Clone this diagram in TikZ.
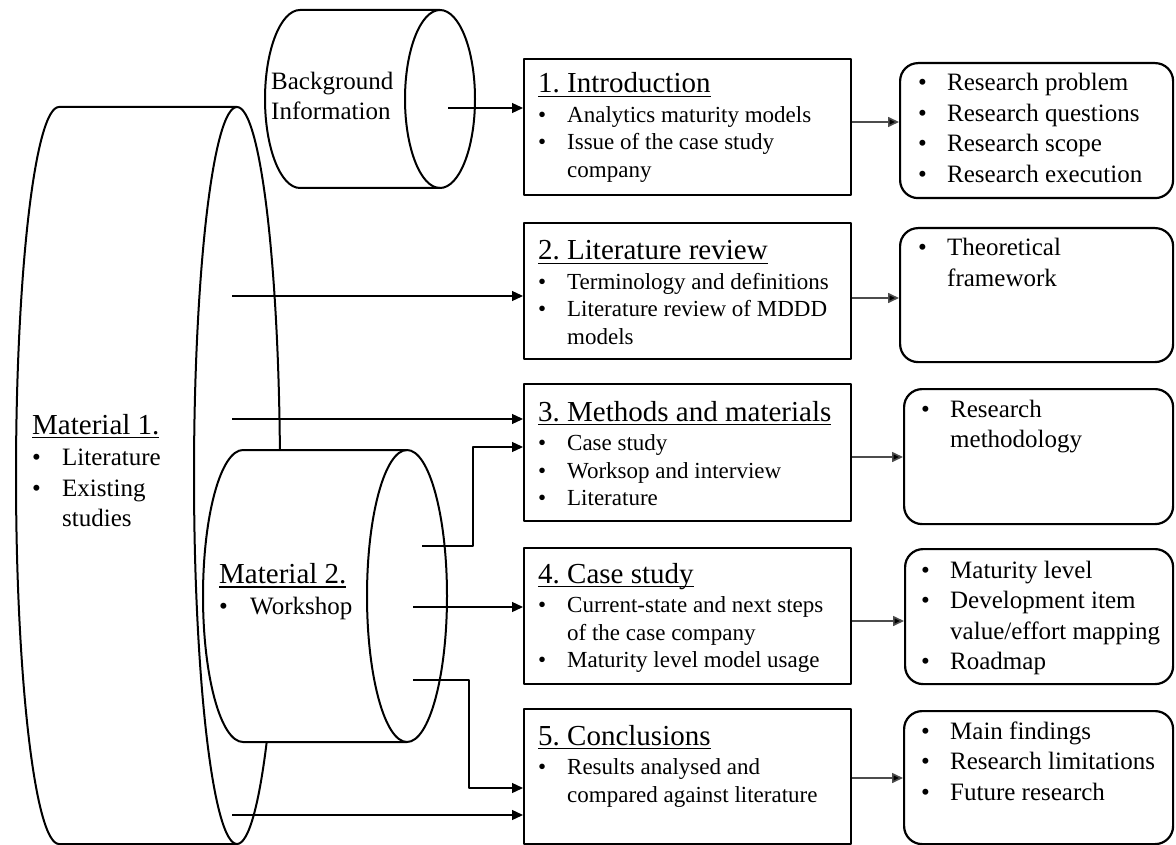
\documentclass[tikz,border=0pt]{standalone}
\usepackage{fontspec}
\setmainfont{Liberation Serif}
\usetikzlibrary{arrows.meta}
\frenchspacing
\newcommand\ttlf{\fontsize{29}{30}\selectfont}
\newcommand\bdyf{\fontsize{23}{27.5}\selectfont}
\newcommand\rbf{\fontsize{25}{30.5}\selectfont}
\newcommand\bgf{\fontsize{25}{30}\selectfont}
\newcommand\bitem[2][29pt]{\makebox[#1][l]{\textbullet}#2\par}
\newcommand\bcont[2][29pt]{\leavevmode\hspace*{#1}#2\par}
\newcommand\ttlul[1]{\leavevmode\setbox0\hbox{#1}\rlap{\rule[-4pt]{\wd0}{1.3pt}}\box0}
\newcommand\mpbox[2]{\begin{minipage}[t]{#1}\frenchspacing#2\end{minipage}}
\begin{document}
\begin{tikzpicture}[x=1pt,y=-1pt,line join=round,
  cyl/.style={draw=black,line width=2pt,fill=white},
  box/.style={draw=black,line width=2pt,fill=white,inner sep=0pt,anchor=north west,minimum width=327pt},
  rbox/.style={draw=black,line width=2.2pt,rounded corners=18pt,fill=white,inner sep=0pt,anchor=north west},
  txt/.style={anchor=base west,inner sep=0pt},
  arr/.style={line width=1.3pt,-{Triangle[length=11pt,width=10pt]}},
  garr/.style={line width=1.6pt,draw=black!70,-{Triangle[length=11pt,width=10pt,fill=black]}}]
\useasboundingbox (0,0) rectangle (1176,845);

% Material 1 cylinder
\draw[cyl] (237,107) -- (59,107) arc[start angle=90,end angle=270,x radius=43pt,y radius=368.5pt]
  -- (237,844) arc[start angle=-90,end angle=90,x radius=43pt,y radius=368.5pt] -- cycle;
\draw[cyl,fill=none] (237,107) arc[start angle=90,end angle=270,x radius=43pt,y radius=368.5pt];
\node[txt] (m1t) at (32,434) {\mpbox{160pt}{{\ttlf\ttlul{Material 1.}\par}\vspace{1pt}{\rbf\bitem[30pt]{Literature}\bitem[30pt]{Existing}\bcont[30pt]{studies}}}};

% Material 2 cylinder
\draw[cyl] (407,450) -- (243,450) arc[start angle=90,end angle=270,x radius=40pt,y radius=146pt]
  -- (407,742) arc[start angle=-90,end angle=90,x radius=40pt,y radius=146pt] -- cycle;
\draw[cyl,fill=none] (407,450) arc[start angle=90,end angle=270,x radius=40pt,y radius=146pt];
\node[txt] (m2t) at (219,583.5) {\mpbox{160pt}{{\ttlf\ttlul{Material 2.}\par}{\rbf\bitem[31pt]{Workshop}}}};

% Background cylinder
\draw[cyl] (440,10) -- (300,10) arc[start angle=90,end angle=270,x radius=35pt,y radius=89pt]
  -- (440,188) arc[start angle=-90,end angle=90,x radius=35pt,y radius=89pt] -- cycle;
\draw[cyl,fill=none] (440,10) arc[start angle=90,end angle=270,x radius=35pt,y radius=89pt];
\node[txt] (bgt) at (271,90) {\mpbox{140pt}{\bgf Background\par Information\par}};

% Chapter boxes
\node[box,minimum height=136pt] (b1) at (523,58) {};
\node[box,minimum height=136pt] (b2) at (523,222) {};
\node[box,minimum height=137pt] (b3) at (523,383) {};
\node[box,minimum height=136pt] (b4) at (523,547) {};
\node[box,minimum height=135pt] (b5) at (523,708) {};

\node[txt] (t1) at (538,93) {\mpbox{310pt}{{\ttlf\ttlul{1. Introduction}\par}\vspace{2pt}{\bdyf\bitem{Analytics maturity models}\bitem{Issue of the case study}\bcont{company}}}};
\node[txt] (t2) at (538,260) {\mpbox{310pt}{{\ttlf\ttlul{2. Literature review}\par}\vspace{2pt}{\bdyf\bitem{Terminology and definitions}\bitem{Literature review of MDDD}\bcont{models}}}};
\node[txt] (t3) at (538,421) {\mpbox{310pt}{{\ttlf\ttlul{3. Methods and materials}\par}\vspace{2pt}{\bdyf\bitem{Case study}\bitem{Worksop and interview}\bitem{Literature}}}};
\node[txt] (t4) at (538,583) {\mpbox{310pt}{{\ttlf\ttlul{4. Case study}\par}\vspace{2pt}{\bdyf\bitem{Current-state and next steps}\bcont{of the case company}\bitem{Maturity level model usage}}}};
\node[txt] (t5) at (538,745) {\mpbox{310pt}{{\ttlf\ttlul{5. Conclusions}\par}\vspace{2pt}{\bdyf\bitem{Results analysed and}\bcont{compared against literature}}}};

% Result boxes
\node[rbox,minimum width=273pt,minimum height=135pt] (r1) at (899,62) {};
\node[rbox,minimum width=273pt,minimum height=134pt] (r2) at (899,227) {};
\node[rbox,minimum width=269pt,minimum height=135pt] (r3) at (903,388) {};
\node[rbox,minimum width=268pt,minimum height=135pt] (r4) at (904,548) {};
\node[rbox,minimum width=269pt,minimum height=133pt] (r5) at (903,710) {};

\node[txt] (s1) at (918,91) {\mpbox{250pt}{\rbf\bitem{Research problem}\bitem{Research questions}\bitem{Research scope}\bitem{Research execution}}};
\node[txt] (s2) at (918,256) {\mpbox{250pt}{\rbf\bitem{Theoretical}\bcont{framework}}};
\node[txt] (s3) at (921,417) {\mpbox{250pt}{\rbf\bitem{Research}\bcont{methodology}}};
\node[txt] (s4) at (921,578) {\mpbox{250pt}{\rbf\bitem{Maturity level}\bitem{Development item}\bcont{value/effort mapping}\bitem{Roadmap}}};
\node[txt] (s5) at (921,739) {\mpbox{250pt}{\rbf\bitem{Main findings}\bitem{Research limitations}\bitem{Future research}}};

% Input connectors
\coordinate (bgo) at (448,108);
\coordinate (m1a) at (232,296);
\coordinate (m1b) at (232,419);
\coordinate (m1c) at (232,815);
\coordinate (m2a) at (422,546);
\coordinate (m2b) at (413,607);
\coordinate (m2c) at (413,680);
\draw[arr] (bgo) -- (bgo -| b1.west);
\draw[arr] (m1a) -- (m1a -| b2.west);
\draw[arr] (m1b) -- (m1b -| b3.west);
\draw[arr] (m1c) -- (m1c -| b5.west);
\draw[arr] (m2a) -- ++(51,0) |- ([yshift=-64pt]b3.north west);
\draw[arr] (m2b) -- (m2b -| b4.west);
\draw[arr] (m2c) -- ++(56,0) |- ([yshift=-80pt]b5.north west);

% Output connectors
\draw[garr] ([yshift=5pt]b1.east) -- ([yshift=5pt]b1.east -| r1.west);
\draw[garr] ([yshift=-7pt]b2.east) -- ([yshift=-7pt]b2.east -| r2.west);
\draw[garr] ([yshift=-4.5pt]b3.east) -- ([yshift=-4.5pt]b3.east -| r3.west);
\draw[garr] ([yshift=-5pt]b4.east) -- ([yshift=-5pt]b4.east -| r4.west);
\draw[garr] ([yshift=-1.5pt]b5.east) -- ([yshift=-1.5pt]b5.east -| r5.west);
\end{tikzpicture}
\end{document}
